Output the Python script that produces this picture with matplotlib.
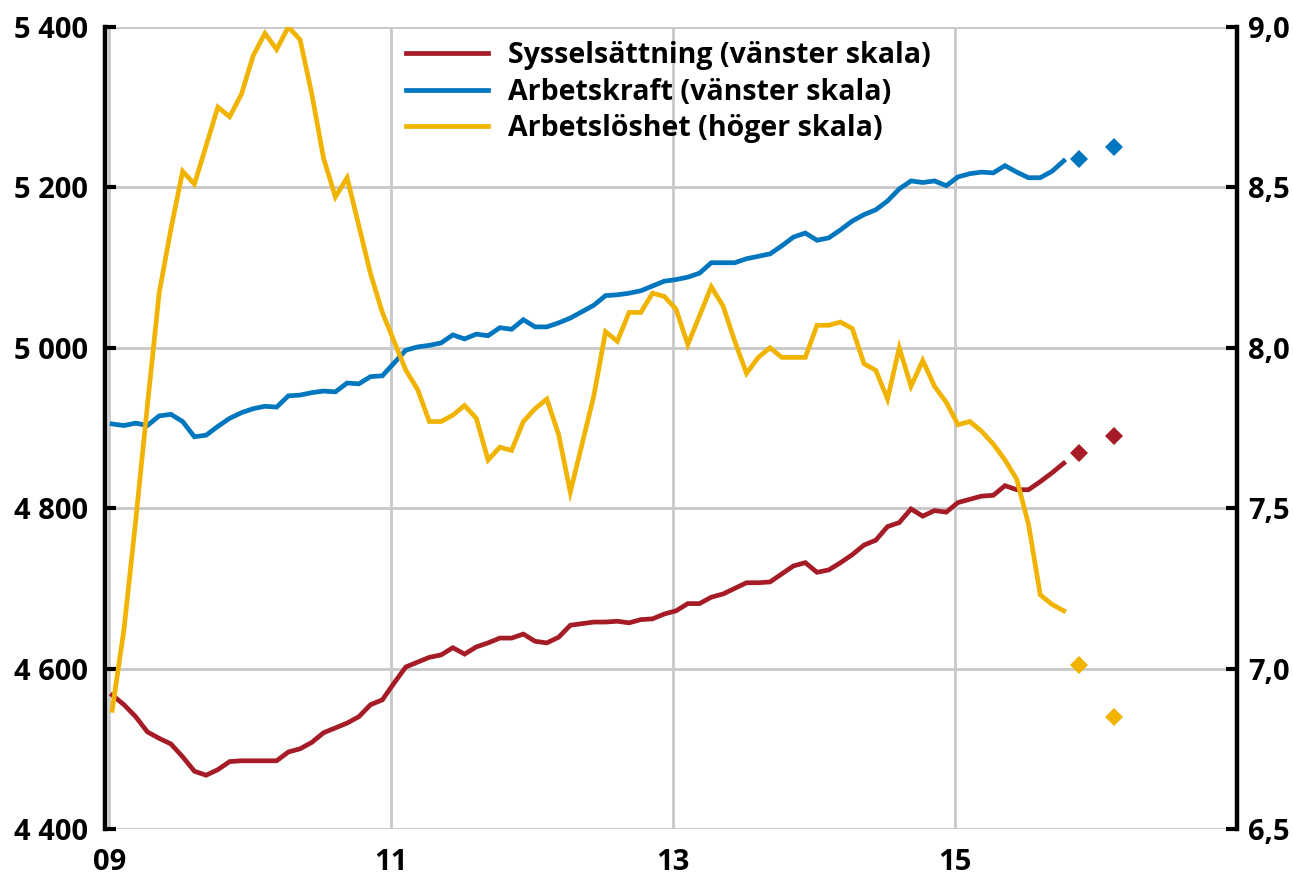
import numpy as np
import matplotlib
matplotlib.use("Agg")
import matplotlib.pyplot as plt
from matplotlib.ticker import FuncFormatter


# monthly data, jan 2009 - okt 2015
sysselsattning = [
    4567, 4555, 4540, 4521, 4513, 4506, 4490, 4472, 4467, 4474,
    4484, 4485, 4485, 4485, 4485, 4496, 4500, 4508, 4520, 4526,
    4532, 4540, 4555, 4561, 4582, 4602, 4608, 4614, 4617, 4626,
    4618, 4627, 4632, 4638, 4638, 4643, 4634, 4632, 4639, 4654,
    4656, 4658, 4658, 4659, 4657, 4661, 4662, 4668, 4672, 4681,
    4681, 4689, 4693, 4700, 4707, 4707, 4708, 4718, 4728, 4732,
    4720, 4723, 4732, 4742, 4754, 4760, 4777, 4782, 4799, 4790,
    4797, 4795, 4807, 4811, 4815, 4816, 4828, 4823, 4823, 4833,
    4844, 4856,
]

arbetskraft = [
    4905, 4903, 4906, 4903, 4915, 4917, 4908, 4889, 4891, 4902,
    4912, 4919, 4924, 4927, 4926, 4940, 4941, 4944, 4946, 4945,
    4956, 4955, 4964, 4965, 4981, 4997, 5001, 5003, 5006, 5016,
    5011, 5017, 5015, 5025, 5023, 5035, 5026, 5026, 5031, 5037,
    5045, 5053, 5065, 5066, 5068, 5071, 5077, 5083, 5085, 5088,
    5093, 5106, 5106, 5106, 5111, 5114, 5117, 5127, 5138, 5143,
    5134, 5137, 5147, 5158, 5166, 5172, 5183, 5198, 5208, 5206,
    5208, 5202, 5213, 5217, 5219, 5218, 5227, 5219, 5212, 5212,
    5220, 5233,
]

arbetsloshet = [
    6.87, 7.12, 7.46, 7.82, 8.17, 8.37, 8.55, 8.51, 8.63, 8.75,
    8.72, 8.79, 8.91, 8.98, 8.93, 9.00, 8.96, 8.79, 8.59, 8.47,
    8.53, 8.38, 8.23, 8.11, 8.02, 7.93, 7.87, 7.77, 7.77, 7.79,
    7.82, 7.78, 7.65, 7.69, 7.68, 7.77, 7.81, 7.84, 7.73, 7.55,
    7.70, 7.85, 8.05, 8.02, 8.11, 8.11, 8.17, 8.16, 8.12, 8.01,
    8.10, 8.19, 8.13, 8.02, 7.92, 7.97, 8.00, 7.97, 7.97, 7.97,
    8.07, 8.07, 8.08, 8.06, 7.95, 7.93, 7.84, 8.00, 7.88, 7.96,
    7.88, 7.83, 7.76, 7.77, 7.74, 7.70, 7.65, 7.59, 7.45, 7.23,
    7.20, 7.18,
]

# prognoser (2015, 2016)
prognos_x = [2015.88, 2016.13]
prognos_syss = [4869, 4890]
prognos_ak = [5235, 5250]
prognos_al = [7.01, 6.85]

xticks = [2009, 2011, 2013, 2015]
xticklabels = ["09", "11", "13", "15"]

red = "#A51C27"
blue = "#0076BF"
yellow = "#F0B400"

plt.rcParams["font.family"] = ["Open Sans", "DejaVu Sans"]
plt.rcParams["font.weight"] = "bold"

months = np.arange(len(sysselsattning))
x = 2009 + (months + 0.25) / 12

fig = plt.figure(figsize=(12.93, 8.8), dpi=100)
ax = fig.add_axes([0.0812, 0.058, 0.8755, 0.9114])
ax2 = ax.twinx()

lw = 3.4
l1, = ax.plot(x, sysselsattning, color=red, lw=lw, solid_joinstyle="miter")
l2, = ax.plot(x, arbetskraft, color=blue, lw=lw, solid_joinstyle="miter")
l3, = ax2.plot(x, arbetsloshet, color=yellow, lw=lw, solid_joinstyle="miter")

ax.plot(prognos_x, prognos_syss, "D", color=red, ms=9, mew=0)
ax.plot(prognos_x, prognos_ak, "D", color=blue, ms=9, mew=0)
ax2.plot(prognos_x, prognos_al, "D", color=yellow, ms=9, mew=0)

ax.set_xlim(2008.97, 2017.0)
ax.set_ylim(4400, 5400)
ax2.set_ylim(6.5, 9.0)

ax.set_yticks(np.arange(4400, 5401, 200))
ax2.set_yticks(np.arange(6.5, 9.01, 0.5))
ax.set_xticks(xticks)
ax.set_xticklabels(xticklabels)

ax.yaxis.set_major_formatter(FuncFormatter(lambda v, p: f"{v:,.0f}".replace(",", " ")))
ax2.yaxis.set_major_formatter(FuncFormatter(lambda v, p: f"{v:.1f}".replace(".", ",")))

ax.grid(True, color="#C8C8C8", lw=2)
ax.set_axisbelow(True)

for a in (ax, ax2):
    a.spines["top"].set_visible(False)
    a.spines["bottom"].set_visible(False)
    a.spines["left"].set_linewidth(3.2)
    a.spines["right"].set_linewidth(3.2)

ax.spines["right"].set_visible(False)
ax2.spines["left"].set_visible(False)

ax.tick_params(axis="y", direction="in", length=8, width=3, pad=12, labelsize=21)
ax2.tick_params(axis="y", direction="in", length=8, width=3, pad=8, labelsize=21)
ax.tick_params(axis="x", length=0, pad=14, labelsize=21)

ax2.legend(
    [l1, l2, l3],
    ["Sysselsättning (vänster skala)", "Arbetskraft (vänster skala)",
     "Arbetslöshet (höger skala)"],
    loc="upper left",
    bbox_to_anchor=(0.243, 1.014),
    frameon=False,
    fontsize=20.5,
    handlelength=2.9,
    handletextpad=0.7,
    labelspacing=0.26,
)

fig.savefig("out.png", dpi=100)
